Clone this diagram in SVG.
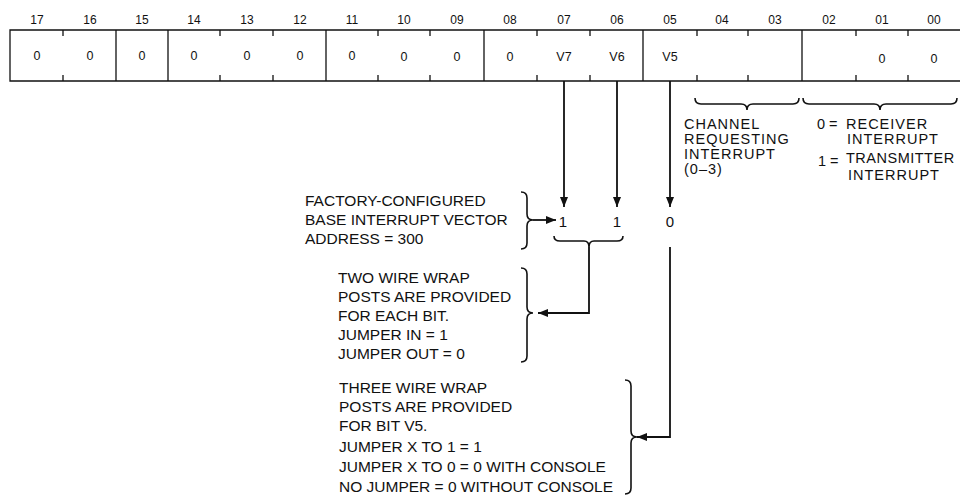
<svg xmlns="http://www.w3.org/2000/svg" width="960" height="496" viewBox="0 0 960 496">
<style>
.reg{fill:none;stroke:#111;stroke-width:1.3}
.lbl{font-family:"Liberation Sans",Arial,sans-serif;font-size:12px;fill:#111;text-anchor:middle}
.val{font-family:"Liberation Sans",Arial,sans-serif;font-size:12.5px;fill:#111;text-anchor:middle}
.txt{font-family:"Liberation Sans",Arial,sans-serif;font-size:15.5px;fill:#111}
.rtxt{font-family:"Liberation Sans",Arial,sans-serif;font-size:14.5px;letter-spacing:1px;fill:#111}
.eq{font-family:"Liberation Sans",Arial,sans-serif;font-size:14.5px;fill:#111}
.dig{font-family:"Liberation Sans",Arial,sans-serif;font-size:15px;fill:#111;text-anchor:middle}
.brace{fill:none;stroke:#111;stroke-width:1.6}
.conn{fill:none;stroke:#111;stroke-width:1.8}
</style>
<defs>
<marker id="ah" viewBox="0 0 10 8" refX="10" refY="4" markerWidth="10" markerHeight="8" markerUnits="userSpaceOnUse" orient="auto">
<path d="M0,0 L10,4 L0,8 Z" fill="#111"/>
</marker>
</defs>
<rect width="960" height="496" fill="#fff"/>

<g id="register">
<path class="reg" d="M960,30 L10,30 L10,81 L960,81"/>
<path class="reg" d="M116,30 V81 M168,30 V81 M326,30 V81 M484,30 V81 M643,30 V81 M802,30 V81"/>
<path class="reg" d="M63,30 V36 M63,75 V81 M220,30 V36 M220,75 V81 M273,30 V36 M273,75 V81 M378,30 V36 M378,75 V81 M430,30 V36 M430,75 V81 M537,30 V36 M537,75 V81 M590,30 V36 M590,75 V81 M697,30 V36 M697,75 V81 M748,30 V36 M748,75 V81 M856,30 V36 M856,75 V81 M908,30 V36 M908,75 V81"/>
<g id="bit-labels">
<text class="lbl" x="37" y="24">17</text>
<text class="lbl" x="90" y="24">16</text>
<text class="lbl" x="142" y="24">15</text>
<text class="lbl" x="194" y="24">14</text>
<text class="lbl" x="247" y="24">13</text>
<text class="lbl" x="300" y="24">12</text>
<text class="lbl" x="352" y="24">11</text>
<text class="lbl" x="404" y="24">10</text>
<text class="lbl" x="457" y="24">09</text>
<text class="lbl" x="510" y="24">08</text>
<text class="lbl" x="564" y="24">07</text>
<text class="lbl" x="617" y="24">06</text>
<text class="lbl" x="670" y="24">05</text>
<text class="lbl" x="722" y="24">04</text>
<text class="lbl" x="775" y="24">03</text>
<text class="lbl" x="829" y="24">02</text>
<text class="lbl" x="882" y="24">01</text>
<text class="lbl" x="934" y="24">00</text>
</g>
<g id="bit-values">
<text class="val" x="37" y="60">0</text>
<text class="val" x="90" y="60">0</text>
<text class="val" x="142" y="60">0</text>
<text class="val" x="194" y="60">0</text>
<text class="val" x="247" y="60">0</text>
<text class="val" x="300" y="60">0</text>
<text class="val" x="352" y="60">0</text>
<text class="val" x="404" y="61">0</text>
<text class="val" x="457" y="61">0</text>
<text class="val" x="510" y="61">0</text>
<text class="val" x="564" y="61">V7</text>
<text class="val" x="617" y="61">V6</text>
<text class="val" x="670" y="61">V5</text>
<text class="val" x="882" y="63">0</text>
<text class="val" x="934" y="63">0</text>
</g>
</g>

<g id="channel-note">
<path class="brace" d="M695,98 Q695,104 701,104 L741,104 Q747,104 747,110 Q747,104 753,104 L793,104 Q799,104 799,98"/>
<text class="rtxt" x="684" y="129">CHANNEL</text>
<text class="rtxt" x="684" y="144">REQUESTING</text>
<text class="rtxt" x="684" y="159">INTERRUPT</text>
<text class="rtxt" x="684" y="174">(0–3)</text>
</g>

<g id="type-note">
<path class="brace" d="M803,98 Q803,104 809,104 L874,104 Q880,104 880,110 Q880,104 886,104 L951,104 Q957,104 957,98"/>
<text class="eq" x="817" y="129">0 =</text>
<text class="rtxt" x="846" y="129">RECEIVER</text>
<text class="rtxt" x="847" y="144">INTERRUPT</text>
<text class="eq" x="818" y="166">1 =</text>
<text class="rtxt" x="846" y="163" style="letter-spacing:0.5px">TRANSMITTER</text>
<text class="rtxt" x="848" y="180">INTERRUPT</text>
</g>

<g id="factory-note">
<text class="txt" x="305" y="206">FACTORY-CONFIGURED</text>
<text class="txt" x="305" y="225">BASE INTERRUPT VECTOR</text>
<text class="txt" x="305" y="244">ADDRESS = 300</text>
<path class="brace" d="M521,192 Q527,192 527,198 L527,214 Q527,220 533,220 Q527,220 527,226 L527,243 Q527,249 521,249"/>
</g>

<g id="vector-bits">
<text class="dig" x="563" y="227">1</text>
<text class="dig" x="617" y="227">1</text>
<text class="dig" x="670" y="227">0</text>
<path class="brace" d="M554,236 Q554,241 560,241 L584,241 Q589,241 589,247 Q589,241 594,241 L617,241 Q623,241 623,236"/>
</g>

<g id="two-post-note">
<text class="txt" x="338" y="283">TWO WIRE WRAP</text>
<text class="txt" x="338" y="302">POSTS ARE PROVIDED</text>
<text class="txt" x="338" y="321">FOR EACH BIT.</text>
<text class="txt" x="338" y="340">JUMPER IN = 1</text>
<text class="txt" x="338" y="359">JUMPER OUT = 0</text>
<path class="brace" d="M521,268 Q527,268 527,274 L527,307 Q527,313 533,313 Q527,313 527,319 L527,356 Q527,362 521,362"/>
</g>

<g id="three-post-note">
<text class="txt" x="339" y="393">THREE WIRE WRAP</text>
<text class="txt" x="339" y="412">POSTS ARE PROVIDED</text>
<text class="txt" x="339" y="431">FOR BIT V5.</text>
<text class="txt" x="339" y="452">JUMPER X TO 1 = 1</text>
<text class="txt" x="339" y="472">JUMPER X TO 0 = 0 WITH CONSOLE</text>
<text class="txt" x="339" y="492">NO JUMPER = 0 WITHOUT CONSOLE</text>
<path class="brace" d="M625,380 Q631,380 631,386 L631,431 Q631,437 637,437 Q631,437 631,443 L631,488 Q631,494 625,494"/>
</g>

<g id="connectors">
<line class="conn" x1="564" y1="81" x2="564" y2="207" marker-end="url(#ah)"/>
<line class="conn" x1="617" y1="81" x2="617" y2="207" marker-end="url(#ah)"/>
<line class="conn" x1="670" y1="81" x2="670" y2="207" marker-end="url(#ah)"/>
<line class="conn" x1="533" y1="220" x2="556" y2="220" marker-end="url(#ah)"/>
<polyline class="conn" points="589,247 589,313 538,313" marker-end="url(#ah)"/>
<polyline class="conn" points="670,247 670,437 637,437" marker-end="url(#ah)"/>
</g>
</svg>
